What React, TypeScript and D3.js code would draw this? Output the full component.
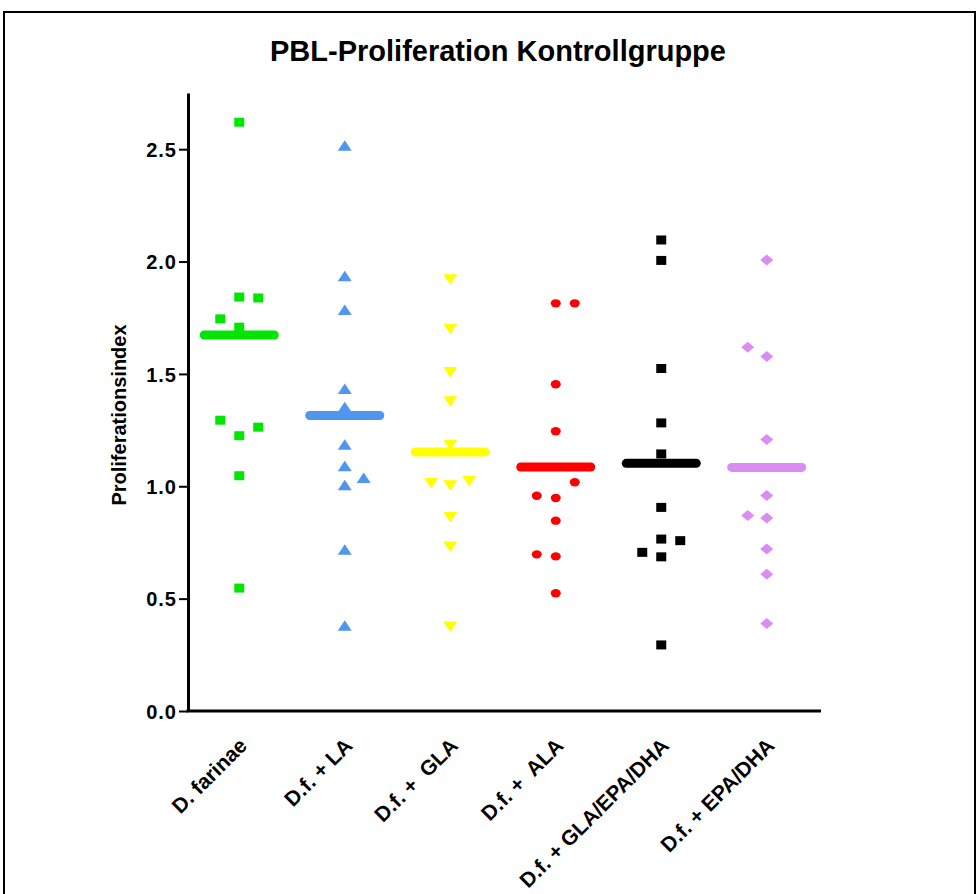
import React, { useEffect, useRef } from 'react';
import * as d3 from 'd3';

// groups along the x axis
const categories = ['D. farinae', 'D.f. + LA', 'D.f. +  GLA', 'D.f. +  ALA', 'D.f. + GLA/EPA/DHA', 'D.f. + EPA/DHA'];

// proliferation index per donor
const farinaeValues = [2.62, 1.842, 1.838, 1.745, 1.708, 1.294, 1.263, 1.225, 1.047, 0.547];
const laValues = [2.515, 1.935, 1.784, 1.433, 1.352, 1.185, 1.089, 1.037, 1.004, 0.717, 0.379];
const glaValues = [1.921, 1.701, 1.509, 1.378, 1.185, 1.024, 1.015, 1.004, 0.863, 0.732, 0.376];
const alaValues = [1.814, 1.814, 1.454, 1.245, 1.018, 0.958, 0.948, 0.847, 0.697, 0.688, 0.524];
const glaEpaDhaValues = [2.096, 2.005, 1.524, 1.282, 1.144, 0.906, 0.765, 0.758, 0.706, 0.686, 0.294];
const epaDhaValues = [2.007, 1.619, 1.578, 1.208, 0.959, 0.87, 0.859, 0.721, 0.609, 0.389];

// sub column of each point inside its group (-1 left, 0 centre, 1 right), as Prism spread them
const farinaeDodge = [0, 0, 1, -1, 0, -1, 1, 0, 0, 0];
const laDodge = [0, 0, 0, 0, 0, 0, 0, 1, 0, 0, 0];
const glaDodge = [0, 0, 0, 0, 0, 1, -1, 0, 0, 0, 0];
const alaDodge = [0, 1, 0, 0, 1, -1, 0, 0, -1, 0, 0];
const glaEpaDhaDodge = [0, 0, 0, 0, 0, 0, 0, 1, -1, 0, 0];
const epaDhaDodge = [0, -1, 0, 0, 0, -1, 0, 0, 0, 0];

// horizontal centre line of each group
const centreLine = [1.673, 1.315, 1.153, 1.086, 1.102, 1.084];

const yTicks = [0, 0.5, 1.0, 1.5, 2.0, 2.5];

const groupValues = [farinaeValues, laValues, glaValues, alaValues, glaEpaDhaValues, epaDhaValues];
const groupDodge = [farinaeDodge, laDodge, glaDodge, alaDodge, glaEpaDhaDodge, epaDhaDodge];
const colors = ['#00e600', '#5096ee', '#ffff00', '#ff0000', '#000000', '#d98cf2'];
const shapes = ['square', 'triangleUp', 'triangleDown', 'circle', 'square', 'diamond'];

const W = 979;
const H = 894;
const FONT = 'Arial, "Liberation Sans", sans-serif';

function markerPath(shape: string): string {
  switch (shape) {
    case 'square':
      return 'M-5,-4.5H5V4.5H-5Z';
    case 'triangleUp':
      return 'M0,-5.5L7,5L-7,5Z';
    case 'triangleDown':
      return 'M0,5.5L7,-5L-7,-5Z';
    case 'diamond':
      return 'M0,-5.5L6.5,0L0,5.5L-6.5,0Z';
    default:
      return 'M-5,0A5,4.2 0 1,0 5,0A5,4.2 0 1,0 -5,0Z';
  }
}

export default function App() {
  const node = useRef<SVGSVGElement | null>(null);

  useEffect(() => {
    document.body.style.margin = '0';
    const svg = d3.select(node.current);
    svg.selectAll('*').remove();

    const axisLeft = 188;
    const axisRight = 821;
    const y = d3.scaleLinear().domain([0, 2.75]).range([711, 93]);
    const x = d3.scalePoint<string>().domain(categories).range([186.5, 819.5]).padding(0.5);
    const dodgeStep = x.step() * 0.18;

    // frame
    svg.append('rect')
      .attr('x', 4).attr('y', 12)
      .attr('width', W - 8).attr('height', H + 20)
      .attr('fill', 'none').attr('stroke', '#000').attr('stroke-width', 2);

    svg.append('text')
      .attr('x', 498).attr('y', 61)
      .attr('text-anchor', 'middle')
      .attr('font-family', FONT).attr('font-weight', 'bold').attr('font-size', 29)
      .text('PBL-Proliferation Kontrollgruppe');

    // y axis
    const yAxis = d3.axisLeft(y)
      .tickValues(yTicks)
      .tickFormat(d3.format('.1f'))
      .tickSize(9)
      .tickSizeOuter(0);
    const gy = svg.append('g').attr('transform', `translate(${axisLeft},0)`).call(yAxis);
    gy.select('.domain').attr('stroke', '#000').attr('stroke-width', 3);
    gy.selectAll('.tick line').attr('stroke', '#000').attr('stroke-width', 2);
    gy.selectAll('.tick text')
      .attr('font-family', FONT).attr('font-weight', 'bold').attr('font-size', 20)
      .attr('letter-spacing', 1).attr('fill', '#000').attr('x', -11).attr('dy', '0.36em');

    // x axis line
    svg.append('line')
      .attr('x1', axisLeft - 1.5).attr('x2', axisRight)
      .attr('y1', y(0)).attr('y2', y(0))
      .attr('stroke', '#000').attr('stroke-width', 3);

    svg.append('text')
      .attr('transform', `translate(126,415) rotate(-90)`)
      .attr('text-anchor', 'middle')
      .attr('font-family', FONT).attr('font-weight', 'bold').attr('font-size', 20)
      .text('Proliferationsindex');

    // category labels
    svg.append('g').selectAll('text')
      .data(categories)
      .enter()
      .append('text')
        .attr('transform', d => `translate(${(x(d) as number) + 9},${y(0) + 36}) rotate(-45)`)
        .attr('text-anchor', 'end')
        .style('white-space', 'pre')
        .attr('font-family', FONT).attr('font-weight', 'bold').attr('font-size', 21)
        .text(d => d);

    // centre lines
    svg.append('g').selectAll('line')
      .data(centreLine)
      .enter()
      .append('line')
        .attr('x1', (d, i) => (x(categories[i]) as number) - 35)
        .attr('x2', (d, i) => (x(categories[i]) as number) + 35)
        .attr('y1', d => y(d)).attr('y2', d => y(d))
        .attr('stroke', (d, i) => colors[i])
        .attr('stroke-width', 9)
        .attr('stroke-linecap', 'round');

    // points
    groupValues.forEach((values, gi) => {
      const cx = x(categories[gi]) as number;
      svg.append('g').selectAll('path')
        .data(values)
        .enter()
        .append('path')
          .attr('d', markerPath(shapes[gi]))
          .attr('transform', (d, i) => `translate(${cx + groupDodge[gi][i] * dodgeStep},${y(d)})`)
          .attr('fill', colors[gi]);
    });
  }, []);

  return <svg ref={node} width={W} height={H} style={{ display: 'block' }} />;
}
